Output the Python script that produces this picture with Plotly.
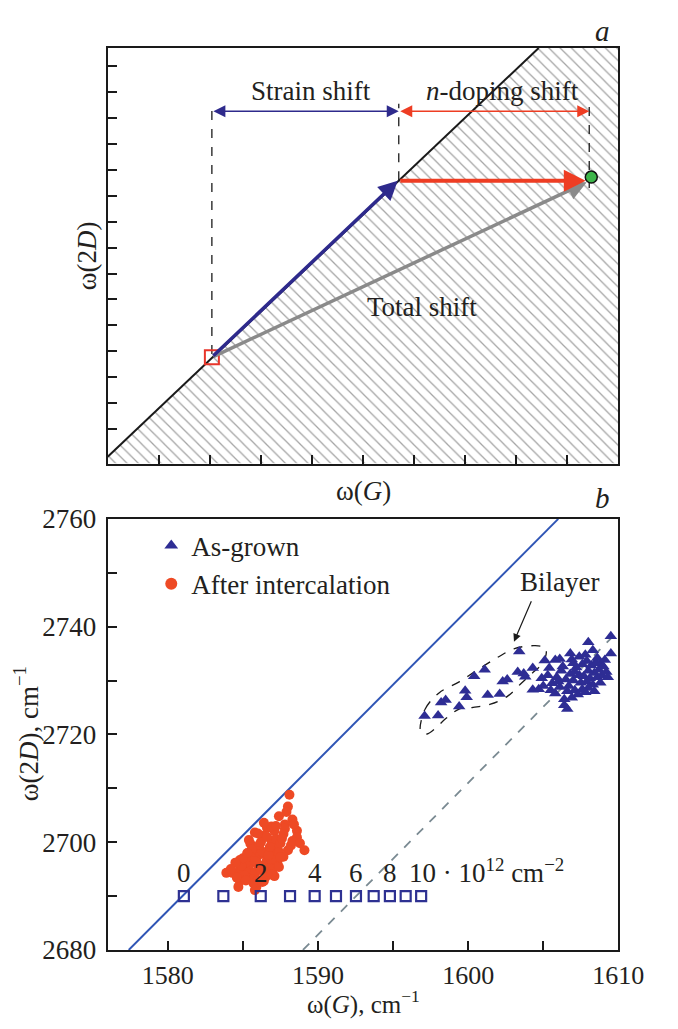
import plotly.graph_objects as go

FONT = "Liberation Serif"
TXT = "#231f20"
FS = 27

# ---------------- Panel a (schematic) ----------------
diag_x = [0.0, 8.44]
diag_y = [-1.07, 14.7]
hatch_x = [0.0, 8.44, 10.0, 10.0, 0.0, 0.0]
hatch_y = [-1.07, 14.7, 14.7, -1.33, -1.33, -1.07]
start_xy = [2.04, 2.77]
strain_end_xy = [5.68, 9.58]
doping_end_xy = [9.36, 9.58]
total_end_xy = [9.38, 9.52]
doped_pt_xy = [9.47, 9.72]
guide_x = [2.04, 5.70, 9.43]
guide_y0 = [2.9, 9.6, 9.3]
guide_top = 12.55
span_y = 12.26
label_strain_xy = [3.99, 13.05]
label_doping_xy = [7.73, 13.05]
label_total_xy = [6.15, 4.70]

# ---------------- Panel b (data) ----------------
strain_line_x = [1577.4, 1606.0]
strain_line_y = [2680, 2760]
doped_line_x = [1589.0, 1610.0]
doped_line_y = [2680, 2739.2]

density_x = [1581.07, 1583.70, 1586.19, 1588.14, 1589.78, 1591.2, 1592.53, 1593.71, 1594.79, 1595.84, 1596.87]
density_y = [2690] * 11
density_labels = ["0", "2", "4", "6", "8"]
density_label_x = [1581.07, 1586.19, 1589.78, 1592.53, 1594.79]

asgrown_x = [1597.1, 1598.0, 1598.2, 1598.5, 1599.4, 1599.8, 1599.9, 1600.4, 1601.1, 1601.3,
             1602.1, 1602.3, 1602.6, 1603.3, 1603.4, 1603.7, 1603.8, 1604.3,
             1604.3, 1604.7, 1605.1, 1605.8, 1606.9, 1608.0, 1607.8, 1609.5, 1609.5, 1608.8,
             1606.4, 1606.6, 1606.4,
             1605.3, 1605.6, 1605.9, 1606.1, 1606.2, 1606.5, 1606.7, 1606.8, 1607.0, 1607.1,
             1607.2, 1607.4, 1607.5, 1607.6, 1607.7, 1607.9, 1608.0, 1608.1, 1608.2, 1608.3,
             1608.4, 1608.5, 1608.6, 1608.7, 1608.9, 1609.0, 1609.2, 1608.0, 1607.3, 1606.9,
             1605.8, 1605.5, 1605.0, 1606.3, 1607.0, 1607.9, 1608.6, 1609.1, 1606.0, 1606.6,
             1607.8, 1608.8, 1609.3, 1607.4, 1606.1, 1605.4, 1606.8, 1608.3, 1604.9, 1607.1,
             1607.6, 1608.4]
asgrown_y = [2723.4, 2723.5, 2725.9, 2726.4, 2725.2, 2728.1, 2726.9, 2730.8, 2732.0, 2727.3,
             2727.5, 2729.8, 2730.2, 2731.6, 2735.4, 2731.3, 2730.7, 2732.3,
             2728.3, 2728.4, 2733.7, 2733.8, 2733.9, 2737.1, 2734.8, 2738.2, 2735.0, 2733.2,
             2725.4, 2724.7, 2726.5,
             2731.0, 2729.5, 2730.6, 2728.8, 2731.8, 2730.2, 2729.0, 2731.2, 2730.0, 2728.2,
             2732.4, 2731.0, 2729.6, 2733.0, 2730.8, 2729.8, 2731.8, 2730.4, 2732.8, 2729.2,
             2731.4, 2733.4, 2730.6, 2732.0, 2731.0, 2732.6, 2731.6, 2728.6, 2727.4, 2726.8,
             2727.6, 2728.2, 2729.0, 2732.6, 2733.2, 2733.6, 2734.2, 2733.8, 2729.8, 2728.0,
             2727.8, 2729.6, 2730.6, 2734.4, 2734.0, 2732.3, 2735.0, 2735.6, 2730.4, 2731.6,
             2728.4, 2728.0]

intercal_x = [1588.1, 1588.0, 1587.4, 1588.3, 1587.8, 1587.1, 1587.7, 1588.6, 1588.6, 1586.6,
              1586.4, 1585.8, 1586.9, 1587.3, 1588.0, 1589.1, 1588.2, 1585.5, 1585.9, 1585.3,
              1586.4, 1587.1, 1587.7, 1584.8, 1585.7, 1586.6, 1587.3, 1586.2, 1585.4, 1584.8,
              1583.9, 1584.3, 1585.3, 1585.8, 1586.7, 1587.1, 1584.8, 1585.6, 1585.9, 1584.7,
              1585.8, 1586.4,
              1586.0, 1586.3, 1586.8, 1587.0, 1586.5, 1585.9, 1586.1, 1586.9, 1587.4, 1586.2,
              1585.6, 1586.0, 1586.7, 1587.2, 1585.2, 1585.5, 1586.3, 1586.8, 1587.5, 1586.0,
              1585.1, 1584.9, 1585.4, 1586.5, 1587.0, 1585.7, 1586.2, 1587.8, 1588.3, 1587.5,
              1586.9, 1586.4, 1585.0, 1584.5, 1584.2, 1585.3, 1586.0, 1586.6, 1587.6, 1588.4,
              1587.9, 1586.8, 1585.8, 1586.3, 1587.2, 1584.6, 1585.2, 1586.9, 1587.4, 1588.8]
intercal_y = [2708.8, 2706.6, 2704.8, 2704.2, 2703.3, 2702.1, 2701.5, 2702.1, 2700.9, 2702.7,
              2700.9, 2701.8, 2700.3, 2699.4, 2698.5, 2698.5, 2699.4, 2699.7, 2698.8, 2697.9,
              2697.9, 2697.9, 2697.3, 2696.7, 2697.0, 2696.7, 2696.1, 2695.5, 2695.5, 2694.9,
              2694.3, 2694.3, 2694.3, 2694.3, 2694.6, 2693.7, 2692.8, 2693.1, 2691.7, 2691.7,
              2691.1, 2692.8,
              2697.5, 2698.2, 2699.0, 2698.0, 2696.0, 2696.3, 2699.5, 2696.8, 2698.2, 2700.0,
              2698.6, 2695.8, 2697.6, 2700.6, 2696.2, 2697.3, 2701.2, 2695.2, 2699.8, 2693.0,
              2693.8, 2695.6, 2700.4, 2693.5, 2695.0, 2692.4, 2694.8, 2702.5, 2700.2, 2697.2,
              2702.9, 2703.6, 2697.0, 2696.2, 2695.0, 2698.0, 2701.6, 2701.0, 2700.7, 2703.3,
              2705.6, 2699.1, 2696.5, 2692.6, 2703.0, 2693.4, 2692.9, 2694.0, 2695.4, 2699.8]

bilayer_x = [1596.80, 1597.14, 1598.06, 1599.43, 1600.57, 1601.94, 1603.09, 1604.46, 1605.14, 1605.19,
             1604.91, 1604.23, 1603.54, 1602.63, 1601.49, 1600.34, 1599.43, 1598.51, 1597.83, 1597.26,
             1596.87, 1596.80]
bilayer_y = [2721.14, 2724.72, 2727.70, 2729.79, 2731.88, 2734.26, 2735.92, 2736.46, 2736.04, 2734.85,
             2733.06, 2731.27, 2729.49, 2727.10, 2725.61, 2725.02, 2724.72, 2722.93, 2721.14, 2720.07,
             2720.43, 2721.14]
bilayer_label_xy = [1606.1, 2748.3]
bilayer_arrow_tail = [1604.25, 2745.0]
bilayer_arrow_head = [1603.05, 2737.2]

fig = go.Figure()

# ----- panel a traces -----
fig.add_trace(go.Scatter(x=hatch_x, y=hatch_y, mode="lines", fill="toself",
                         line=dict(width=0, color="rgba(0,0,0,0)"), fillcolor="white",
                         fillpattern=dict(shape="\\", fgcolor="#4a4a4a", bgcolor="white",
                                          size=8, solidity=0.16),
                         hoverinfo="skip", showlegend=False, xaxis="x", yaxis="y"))
fig.add_trace(go.Scatter(x=diag_x, y=diag_y, mode="lines", line=dict(color="#1a1a1a", width=2),
                         showlegend=False, xaxis="x", yaxis="y"))
for gx, gy in zip(guide_x, guide_y0):
    fig.add_trace(go.Scatter(x=[gx, gx], y=[gy, guide_top], mode="lines",
                             line=dict(color="#1a1a1a", width=1.3, dash="dash"),
                             showlegend=False, xaxis="x", yaxis="y"))
fig.add_trace(go.Scatter(x=[start_xy[0]], y=[start_xy[1]], mode="markers",
                         marker=dict(symbol="square-open", size=14, color="#e8352a", line=dict(width=2)),
                         showlegend=False, xaxis="x", yaxis="y"))

annotations = []

def arrow(tail, head, color, width, size, xr="x", yr="y", side="end", head_style=2):
    return dict(x=head[0], y=head[1], ax=tail[0], ay=tail[1], xref=xr, yref=yr,
                axref=xr, ayref=yr, text="", showarrow=True, arrowhead=head_style,
                startarrowhead=head_style, arrowside=side, arrowwidth=width,
                arrowsize=size, arrowcolor=color, standoff=0, startstandoff=0)

annotations.append(arrow(start_xy, total_end_xy, "#8a8a8a", 3.5, 1.1))
annotations.append(arrow(start_xy, strain_end_xy, "#2e2a8c", 3.5, 1.1))
annotations.append(arrow([guide_x[1], doping_end_xy[1]], doping_end_xy, "#ee3d23", 3.8, 1.15))
annotations.append(arrow([guide_x[0], span_y], [guide_x[1], span_y], "#2e2a8c", 1.5, 1.6,
                         side="end+start"))
annotations.append(arrow([guide_x[1], span_y], [guide_x[2], span_y], "#ee3d23", 1.5, 1.6,
                         side="end+start"))

fig.add_trace(go.Scatter(x=[doped_pt_xy[0]], y=[doped_pt_xy[1]], mode="markers",
                         marker=dict(symbol="circle", size=12, color="#3db54a",
                                     line=dict(color="#111", width=1.5)),
                         showlegend=False, xaxis="x", yaxis="y"))

for txt, xy in [("Strain shift", label_strain_xy), ("<i>n</i>-doping shift", label_doping_xy),
                ("Total shift", label_total_xy)]:
    annotations.append(dict(x=xy[0], y=xy[1], xref="x", yref="y", text=txt, showarrow=False,
                            xanchor="center", yanchor="middle",
                            font=dict(family=FONT, size=FS, color=TXT)))

# ----- panel b traces -----
fig.add_trace(go.Scatter(x=strain_line_x, y=strain_line_y, mode="lines",
                         line=dict(color="#2f55b5", width=2), showlegend=False,
                         xaxis="x2", yaxis="y2"))
fig.add_trace(go.Scatter(x=doped_line_x, y=doped_line_y, mode="lines",
                         line=dict(color="#7a8a92", width=1.8, dash="dash"), showlegend=False,
                         xaxis="x2", yaxis="y2"))
fig.add_trace(go.Scatter(x=bilayer_x, y=bilayer_y, mode="lines", line_shape="spline",
                         line=dict(color="#1a1a1a", width=1.3, dash="dash"), showlegend=False,
                         xaxis="x2", yaxis="y2"))
fig.add_trace(go.Scatter(x=asgrown_x, y=asgrown_y, mode="markers", name="As-grown",
                         marker=dict(symbol="triangle-up", size=11, color="#2e2d94"),
                         xaxis="x2", yaxis="y2"))
fig.add_trace(go.Scatter(x=intercal_x, y=intercal_y, mode="markers", name="After intercalation",
                         marker=dict(symbol="circle", size=10, color="#ee4a25"),
                         xaxis="x2", yaxis="y2"))
fig.add_trace(go.Scatter(x=density_x, y=density_y, mode="markers",
                         marker=dict(symbol="square-open", size=10, color="#2e3192",
                                     line=dict(width=2.2)),
                         showlegend=False, xaxis="x2", yaxis="y2"))

for lab, lx in zip(density_labels, density_label_x):
    annotations.append(dict(x=lx, y=2694.2, xref="x2", yref="y2", text=lab, showarrow=False,
                            xanchor="center", yanchor="middle",
                            font=dict(family=FONT, size=FS, color=TXT)))
annotations.append(dict(x=1595.9, y=2694.6, xref="x2", yref="y2", xanchor="left", yanchor="middle",
                        text="10 · 10<sup>12</sup> cm<sup>−2</sup>", showarrow=False,
                        font=dict(family=FONT, size=FS, color=TXT)))
annotations.append(dict(x=bilayer_label_xy[0], y=bilayer_label_xy[1], xref="x2", yref="y2",
                        text="Bilayer", showarrow=False, xanchor="center", yanchor="middle",
                        font=dict(family=FONT, size=FS, color=TXT)))
annotations.append(arrow(bilayer_arrow_tail, bilayer_arrow_head, "#1a1a1a", 1.2, 1.3,
                         xr="x2", yr="y2"))

# axis titles and panel letters
for txt, x, y, ang in [("ω(2<i>D</i>)", 90 / 678, 1 - 248 / 1029, -90),
                       ("ω(<i>G</i>)", 378 / 678, 1 - 490 / 1029, 0),
                       ("ω(2<i>D</i>), cm<sup>−1</sup>", 28 / 678, 1 - 740 / 1029, -90)]:
    annotations.append(dict(x=x, y=y, xref="paper", yref="paper", text=txt, showarrow=False,
                            xanchor="center", yanchor="middle", textangle=ang,
                            font=dict(family=FONT, size=FS, color=TXT)))
annotations.append(dict(x=378 / 678, y=-0.006, xref="paper", yref="paper",
                        text="ω(<i>G</i>), cm<sup>−1</sup>", showarrow=False,
                        xanchor="center", yanchor="bottom", borderpad=0,
                        font=dict(family=FONT, size=25, color=TXT)))
for txt, x, y in [("<i>a</i>", 627 / 678, 1 - 16 / 1029), ("<i>b</i>", 627 / 678, 1 - 497 / 1029)]:
    annotations.append(dict(x=x, y=y, xref="paper", yref="paper", text=txt, showarrow=False,
                            xanchor="center", yanchor="middle",
                            font=dict(family=FONT, size=29, color=TXT)))

axis_common = dict(showline=True, linewidth=2, linecolor="#1a1a1a", mirror=True, showgrid=False,
                   zeroline=False, ticks="inside", tickcolor="#1a1a1a", tickwidth=1.5, ticklen=9,
                   tickfont=dict(family=FONT, size=FS, color=TXT))

xdom = [112 / 678, 643 / 678]
fig.update_layout(
    width=678, height=1029, margin=dict(l=0, r=0, t=0, b=0),
    paper_bgcolor="white", plot_bgcolor="white",
    xaxis=dict(domain=xdom, range=[0, 10], tickvals=list(range(1, 10)), showticklabels=False,
               anchor="y", **axis_common),
    yaxis=dict(domain=[(1029 - 462) / 1029, (1029 - 34) / 1029], range=[-1.33, 14.7],
               tickvals=list(range(0, 15)), showticklabels=False, anchor="x", **axis_common),
    xaxis2=dict(domain=xdom, range=[1576, 1610], tickvals=list(range(1580, 1611, 5)),
                ticktext=["1580", "", "1590", "", "1600", "", "1610"], anchor="y2",
                ticklabelstandoff=1, **axis_common),
    yaxis2=dict(domain=[(1029 - 963) / 1029, (1029 - 519) / 1029], range=[2680, 2760],
                tickvals=list(range(2680, 2761, 10)),
                ticktext=["2680", "", "2700", "", "2720", "", "2740", "", "2760"],
                anchor="x2", ticklabelstandoff=4, **axis_common),
    legend=dict(x=0.232, y=0.493, xanchor="left", yanchor="top", bgcolor="rgba(0,0,0,0)",
                font=dict(family=FONT, size=FS, color=TXT), itemsizing="constant",
                tracegroupgap=2),
    annotations=annotations,
)

fig.update_xaxes(tickfont_size=26, selector=dict(anchor="y2"))

fig.write_html("out.html")
